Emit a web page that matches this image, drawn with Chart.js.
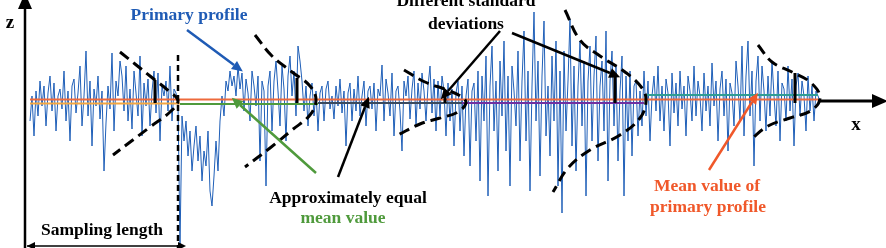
<!DOCTYPE html>
<html>
<head>
<meta charset="utf-8">
<script src="https://cdn.jsdelivr.net/npm/chart.js@4"></script>
<style>
  body { margin: 0; background: #fff; }
  #wrap { width: 886px; height: 248px; position: relative; }
</style>
</head>
<body>
<div id="wrap"><canvas id="graph"></canvas></div>
<script>
// profile height z, sampled every 2 units from x = 30
const profileStart = 30;
const profileStep = 2;
const profileZ = [
  // first sampling length
  -20, 5, -35, 10, -15, 20, -5, 15, -25, 8, 25, -10, 18, -30, 5, 12, -8, 30, -20, 10,
  -40, 15, 22, -12, 8, 35, -25, 5, 50, -15, 20, -45, 12, -5, 25, -18, 10, -70, -22, 15,
  -8, 48, -30, 20, 5, 40, 25, -10, 35, -20, 12, -28, 30, 8, -15, 45, -35, 18, -5, 22,
  -25, 10, 30, -12, 28, -40, 15, 5, 20, -10, 35, -20, 12, 8, -3,
  // second
  -145, -15, -40, -20, -55, -30, -70, -45, -25, -60,
  -35, -80, -50, -65, -30, -90, -105, -75, -40, -70,
  -20, 5, -15, 20, 10, 30, 15, 25, 5, 35,
  12, 28, -10, 22, 8, -20, 30, 15, -5, 25,
  -60, 20, 10, -85, 15, 30, -30, 20, 40, 10,
  -25, 35, 12, -40, 25, 45, 5, 30, -15, 55,
  // third
  40, 20, -10, 15, -25, 5, 18, -15, 10, -30,
  8, 15, -20, 12, 20, -8, 5, -18, 15, -5,
  22, -12, 10, -45, 8, 18, -20, 12, -10, 25,
  -15, 5, 20, -25, 10, 15, -8, 18, -30, 12,
  5, 36, -20, 22, 8, -15, 28, -35, 10, 15,
  -10, -50, 20, 5, 25, -18, 12, 30, -25, 18,
  -8, 28, 10, -20, 15, 35, -12, 22, -30, 20,
  // fourth
  -15, 25, 10, -35, 18, -20, 12, -45, 8, 20, -30, 15, -55, 5, 22, -65, 10, 18, -40, 30,
  -80, 25, -20, 45, -95, 15, 55, -30, 20, -70, 40, -15, 60, -50, 25, -85, 35, 10, -25, 50,
  -60, 20, 70, -40, 30, -90, 15, 89, -20, 40, -75, 25, 80, -35, 15, -55, 45, -20, 60, -85,
  30, -112, 50, -30, 20, 82, -45, 35, -70, 15, 60, -25, 40, -95, 20, 55, -40, 25, 65, -60,
  15, 40, -30, 70, -80, 20, 50, -25, 35, -60, 10, 45, -95, 25, -40, 30, -55, 15, 20, -35,
  // fifth
  10, -25, 30, -15, 20, -40, 5, 25, -10, 35, -20, 15, -30, 22, 8, -45, 28, -12, 18, -25,
  30, -8, 15, -35, 25, 10, -20, 35, -15, 20, 5, -30, 28, -10, 15, -25, 38, -5, 20, -40,
  12, 30, -15, 22, -50, 18, 8, -25, 40, 15, -20, 55, -35, 25, 60, -15, 30, -65, 20, 45,
  -20, 35, 10, -30, 25, -15, 40, 5, -25, 30, -40, 18, 12, -20, 35, -10, 22, -45, 15, 28,
  -15, 20, 5, -30, 25, -10, 15, -20, 10, 5, 0
];

// mean value of each sampling length and of the whole profile
const sectionStarts = [30, 180, 318, 462, 644];
const sectionEnds = [180, 318, 462, 644, 818];
const sectionMeans = [-2.5, -3, -2, -2, 6];
const sectionColors = ["#f4a640", "#4f9a3c", "#3b4a5e", "#7030a0", "#2e9c94"];
const overallMean = 1.5;

// dashed distribution curves (x, z)
const bellCurves = [
  [[120, 49], [150, 25], [170, 9], [178, 0], [170, -11], [150, -26], [113, -54]],
  [[255, 66], [272, 45], [292, 29], [310, 15], [316, 1], [310, -14], [292, -29], [270, -47], [245, -66]],
  [[404, 31], [425, 19], [447, 11], [462, 4], [466, -2], [458, -11], [440, -17], [420, -23], [398, -34]],
  [[565, 91], [580, 61], [600, 45], [625, 29], [642, 13], [646, 0], [640, -17], [620, -34], [590, -49], [568, -67], [553, -91]],
  [[758, 56], [772, 39], [792, 29], [810, 19], [820, 4], [812, -9], [790, -17], [768, -25], [750, -39]]
];
// standard deviation markers: x, top z
const sdX = [155, 297, 445, 615, 795];
const sdTop = [21, 23, 10, 28, 28];

const graph = document.getElementById("graph");

const seg = (a, b) => [{ x: a[0], y: a[1] }, { x: b[0], y: b[1] }];
const lineDs = (data, color, width, extra) =>
  Object.assign({ data: data, borderColor: color, borderWidth: width, pointRadius: 0, tension: 0, clip: false, fill: false }, extra || {});

const datasets = [];

// arrows
datasets.push(lineDs(seg([187, 71], [234, 36]), "#1f5bb5", 2.5, { arrowEnd: true }));
datasets.push(lineDs(seg([500, 70], [448, 10]), "#000", 2.5, { arrowEnd: true }));
datasets.push(lineDs(seg([512, 68], [610, 28]), "#000", 2.5, { arrowEnd: true }));
datasets.push(lineDs(seg([316, -72], [240, -4]), "#4f9a3c", 2.5, { arrowEnd: true }));
datasets.push(lineDs(seg([338, -76], [365, -6]), "#000", 2.5, { arrowEnd: true }));
datasets.push(lineDs(seg([709, -69], [752, -1]), "#f0582a", 2.5, { arrowEnd: true }));
datasets.push(lineDs(seg([27, -145], [178, -145]), "#000", 1.5, { arrowEnd: true, arrowStart: true, small: true }));
// axes
datasets.push(lineDs(seg([25, -147], [25, 92]), "#000", 2.5, { arrowEnd: true, big: true }));
datasets.push(lineDs(seg([818, 0], [872, 0]), "#000", 3, { arrowEnd: true, big: true }));
// sampling length divider
datasets.push(lineDs(seg([178, 46], [178, -147]), "#000", 2.5, { borderDash: [6, 4] }));

bellCurves.forEach((c) => {
  datasets.push(lineDs(c.map((p) => ({ x: p[0], y: p[1] })), "#000", 3, { borderDash: [11, 6], tension: 0.4 }));
});
sdX.forEach((x, i) => {
  datasets.push(lineDs(seg([x, sdTop[i]], [x, -2]), "#000", 3));
});

datasets.push(lineDs(seg([30, overallMean], [818, overallMean]), "#ee6a3c", 1.8));
sectionMeans.forEach((m, i) => {
  datasets.push(lineDs(seg([sectionStarts[i], m], [sectionEnds[i], m]), sectionColors[i], 2));
});

datasets.push(lineDs(profileZ.map((z, i) => ({ x: profileStart + i * profileStep, y: z })), "#1f5fb8", 1));

const labelTexts = [
  { t: "z", x: 10, y: 78, c: "#000", s: 19 },
  { t: "Primary profile", x: 189, y: 86, c: "#1f5bb5", s: 17.5 },
  { t: "Different standard", x: 466, y: 100, c: "#000", s: 17.5 },
  { t: "deviations", x: 466, y: 77, c: "#000", s: 17.5 },
  { t: "Approximately equal", x: 348, y: -97, c: "#000", s: 17.5 },
  { t: "mean value", x: 343, y: -117, c: "#4f9a3c", s: 17.5 },
  { t: "Mean value of", x: 707, y: -85, c: "#f0582a", s: 17.5 },
  { t: "primary profile", x: 708, y: -106, c: "#f0582a", s: 17.5 },
  { t: "Sampling length", x: 102, y: -129, c: "#000", s: 17.5 },
  { t: "x", x: 856, y: -24, c: "#000", s: 19 }
];

const extras = {
  id: "extras",
  afterDatasetsDraw(chart) {
    const ctx = chart.ctx;
    const sx = chart.scales.x, sy = chart.scales.y;
    ctx.save();
    chart.data.datasets.forEach((ds) => {
      if (!ds.arrowEnd && !ds.arrowStart) return;
      const pts = ds.data.map((p) => [sx.getPixelForValue(p.x), sy.getPixelForValue(p.y)]);
      const len = ds.big ? 16 : ds.small ? 8 : 11;
      const half = ds.big ? 7 : ds.small ? 4 : 5;
      const head = (tip, from) => {
        const a = Math.atan2(tip[1] - from[1], tip[0] - from[0]);
        ctx.beginPath();
        ctx.moveTo(tip[0], tip[1]);
        ctx.lineTo(tip[0] - len * Math.cos(a) + half * Math.sin(a), tip[1] - len * Math.sin(a) - half * Math.cos(a));
        ctx.lineTo(tip[0] - len * Math.cos(a) - half * Math.sin(a), tip[1] - len * Math.sin(a) + half * Math.cos(a));
        ctx.closePath();
        ctx.fillStyle = ds.borderColor;
        ctx.fill();
      };
      const n = pts.length;
      if (ds.arrowEnd) {
        const a = Math.atan2(pts[n - 1][1] - pts[n - 2][1], pts[n - 1][0] - pts[n - 2][0]);
        head([pts[n - 1][0] + len * Math.cos(a), pts[n - 1][1] + len * Math.sin(a)], pts[n - 2]);
      }
      if (ds.arrowStart) head(pts[0], pts[1]);
    });
    ctx.textAlign = "center";
    ctx.textBaseline = "middle";
    labelTexts.forEach((l) => {
      ctx.font = "bold " + l.s + "px 'Liberation Serif', 'DejaVu Serif', serif";
      ctx.fillStyle = l.c;
      ctx.fillText(l.t, sx.getPixelForValue(l.x), sy.getPixelForValue(l.y));
    });
    ctx.restore();
  }
};

new Chart(graph, {
  type: "line",
  data: { datasets: datasets },
  options: {
    responsive: true,
    maintainAspectRatio: false,
    animation: false,
    layout: { padding: 0 },
    plugins: { legend: { display: false }, tooltip: { enabled: false } },
    scales: {
      x: { type: "linear", min: 0, max: 886, display: false },
      y: { type: "linear", min: -147, max: 101, display: false }
    }
  },
  plugins: [extras]
});
</script>
</body>
</html>
